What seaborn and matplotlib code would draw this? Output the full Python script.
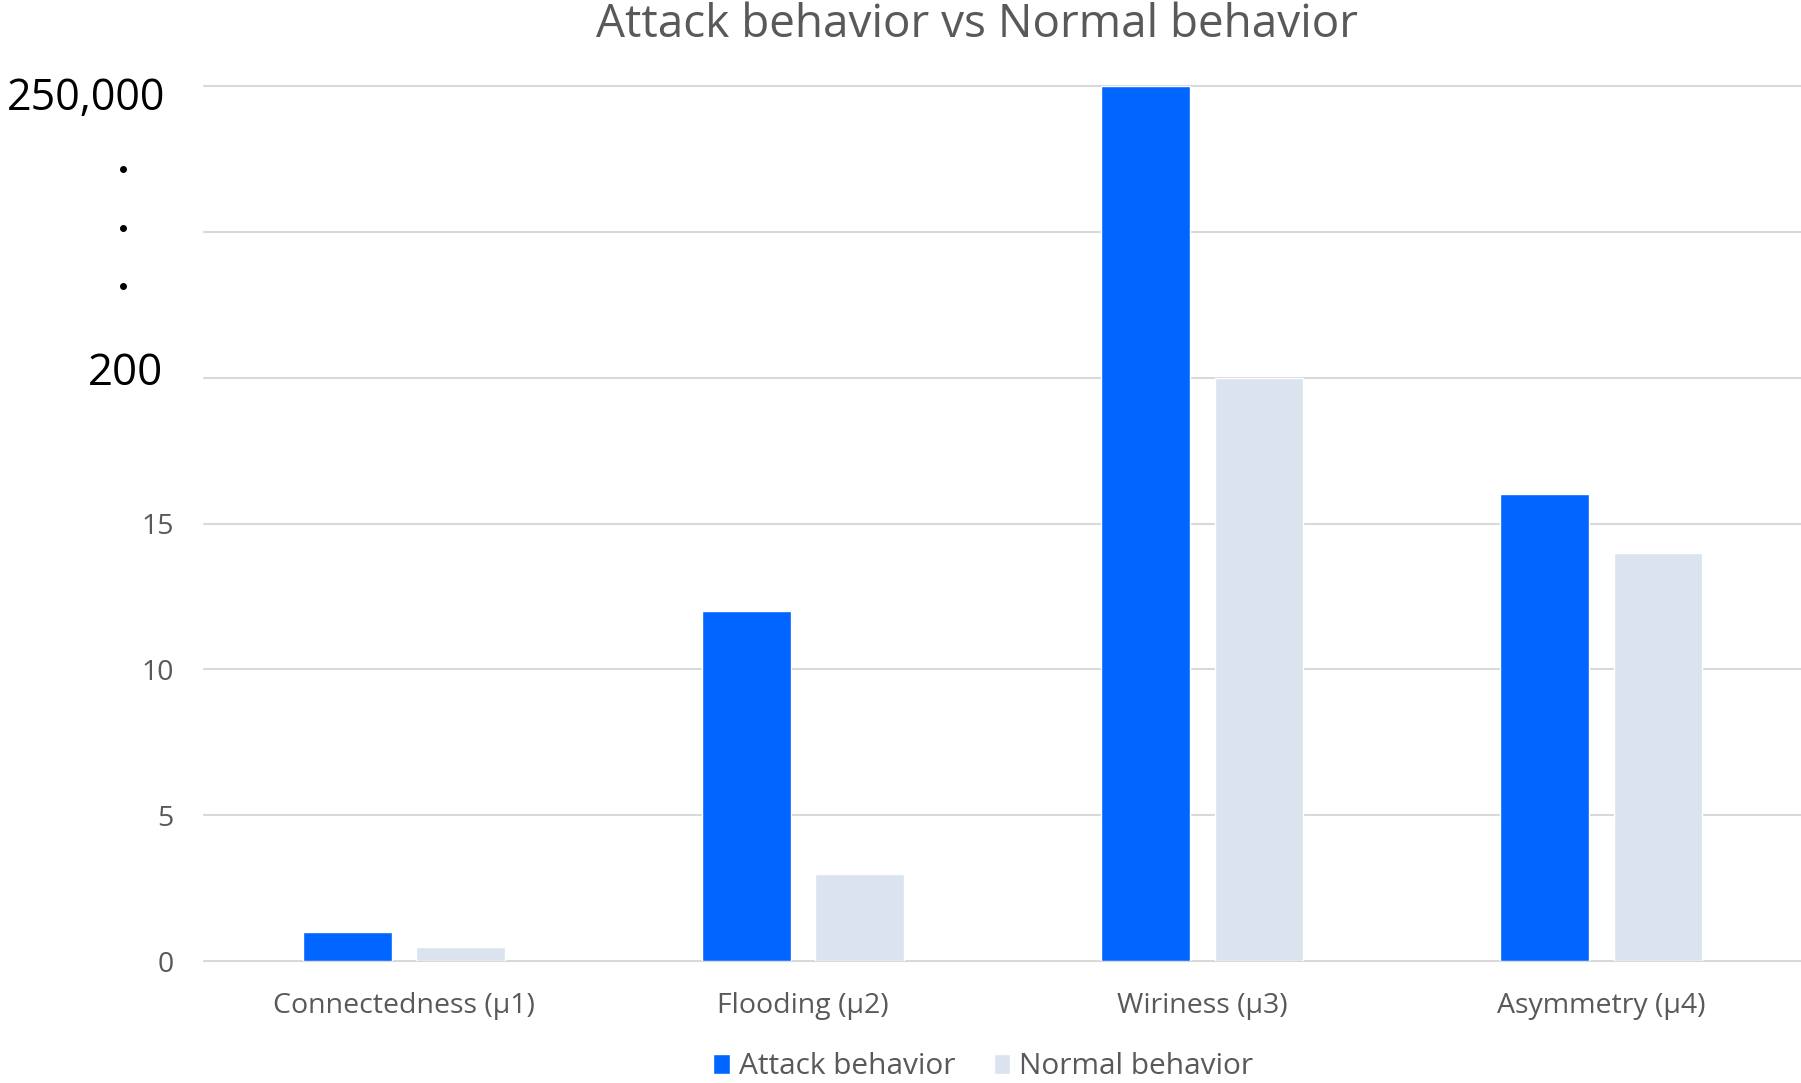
import matplotlib
matplotlib.use("Agg")
import matplotlib.pyplot as plt
import seaborn as sns
import pandas as pd

# Chart data (plotted on a compressed axis: 20 -> 200, 30 -> 250,000)
categories = ["Connectedness (μ1)", "Flooding (μ2)", "Wiriness (μ3)", "Asymmetry (μ4)"]
series_names = ["Attack behavior", "Normal behavior"]
attack_values = [1, 12, 30, 16]
normal_values = [0.5, 3, 20, 14]
tick_values = [0, 5, 10, 15, 20, 25, 30]
tick_labels = ["0", "5", "10", "15", "", "", ""]
break_labels = ["200", "250,000"]
break_positions = [20, 30]

colors = ["#0066FF", "#DAE3EE"]
text_gray = "#595959"
grid_gray = "#D9D9D9"

df = pd.DataFrame({
    "category": categories * 2,
    "value": attack_values + normal_values,
    "series": [series_names[0]] * len(categories) + [series_names[1]] * len(categories),
})

sns.set_theme(style="white")
plt.rcParams["font.family"] = ["Open Sans", "DejaVu Sans"]

fig = plt.figure(figsize=(18.01, 10.83), dpi=100)
ax = fig.add_axes([0.1135, 0.1125, 0.8865, 0.8080])

sns.barplot(data=df, x="category", y="value", hue="series", palette=colors,
            width=0.567, gap=0.216, saturation=1, ax=ax, zorder=3)

ax.set_xlim(-0.5, 3.5)
ax.set_ylim(0, 30)
ax.set_yticks(tick_values)
ax.set_yticklabels(tick_labels)
ax.yaxis.grid(True, color=grid_gray, linewidth=1.5, zorder=0)
ax.set_axisbelow(True)
for gl in ax.get_ygridlines():
    gl.set_clip_on(False)
for s in ax.spines.values():
    s.set_visible(False)
ax.tick_params(axis="y", length=0, pad=22, labelsize=20.5, labelcolor=text_gray)
ax.tick_params(axis="x", length=0, pad=22, labelsize=20.5, labelcolor=text_gray)
ax.set_xlabel("")
ax.set_ylabel("")

# Broken-axis labels and ellipsis dots
trans = ax.get_yaxis_transform()
ax.text(-0.0256, break_positions[0] + 0.15, break_labels[0], transform=trans,
        ha="right", va="center", fontsize=31.5, color="black")
ax.text(-0.0245, break_positions[1] - 0.44, break_labels[1], transform=trans,
        ha="right", va="center", fontsize=31, color="black")
for yv in [27.15, 25.15, 23.15]:
    ax.plot([-0.051], [yv], marker="o", markersize=4, color="black",
            transform=trans, clip_on=False)

fig.text(0.5425, 0.977, "Attack behavior vs Normal behavior", ha="center", va="center",
         fontsize=33, color=text_gray)

ax.legend_.remove()
handles, labels = ax.get_legend_handles_labels()
fig.legend(handles, labels, loc="center", bbox_to_anchor=(0.546, 0.0148), ncol=2,
           frameon=False, fontsize=21.5, labelcolor=text_gray, handlelength=0.55,
           handleheight=0.65, handletextpad=0.3, columnspacing=1.3, borderpad=0)

fig.savefig("out.png", dpi=100, facecolor="white")
